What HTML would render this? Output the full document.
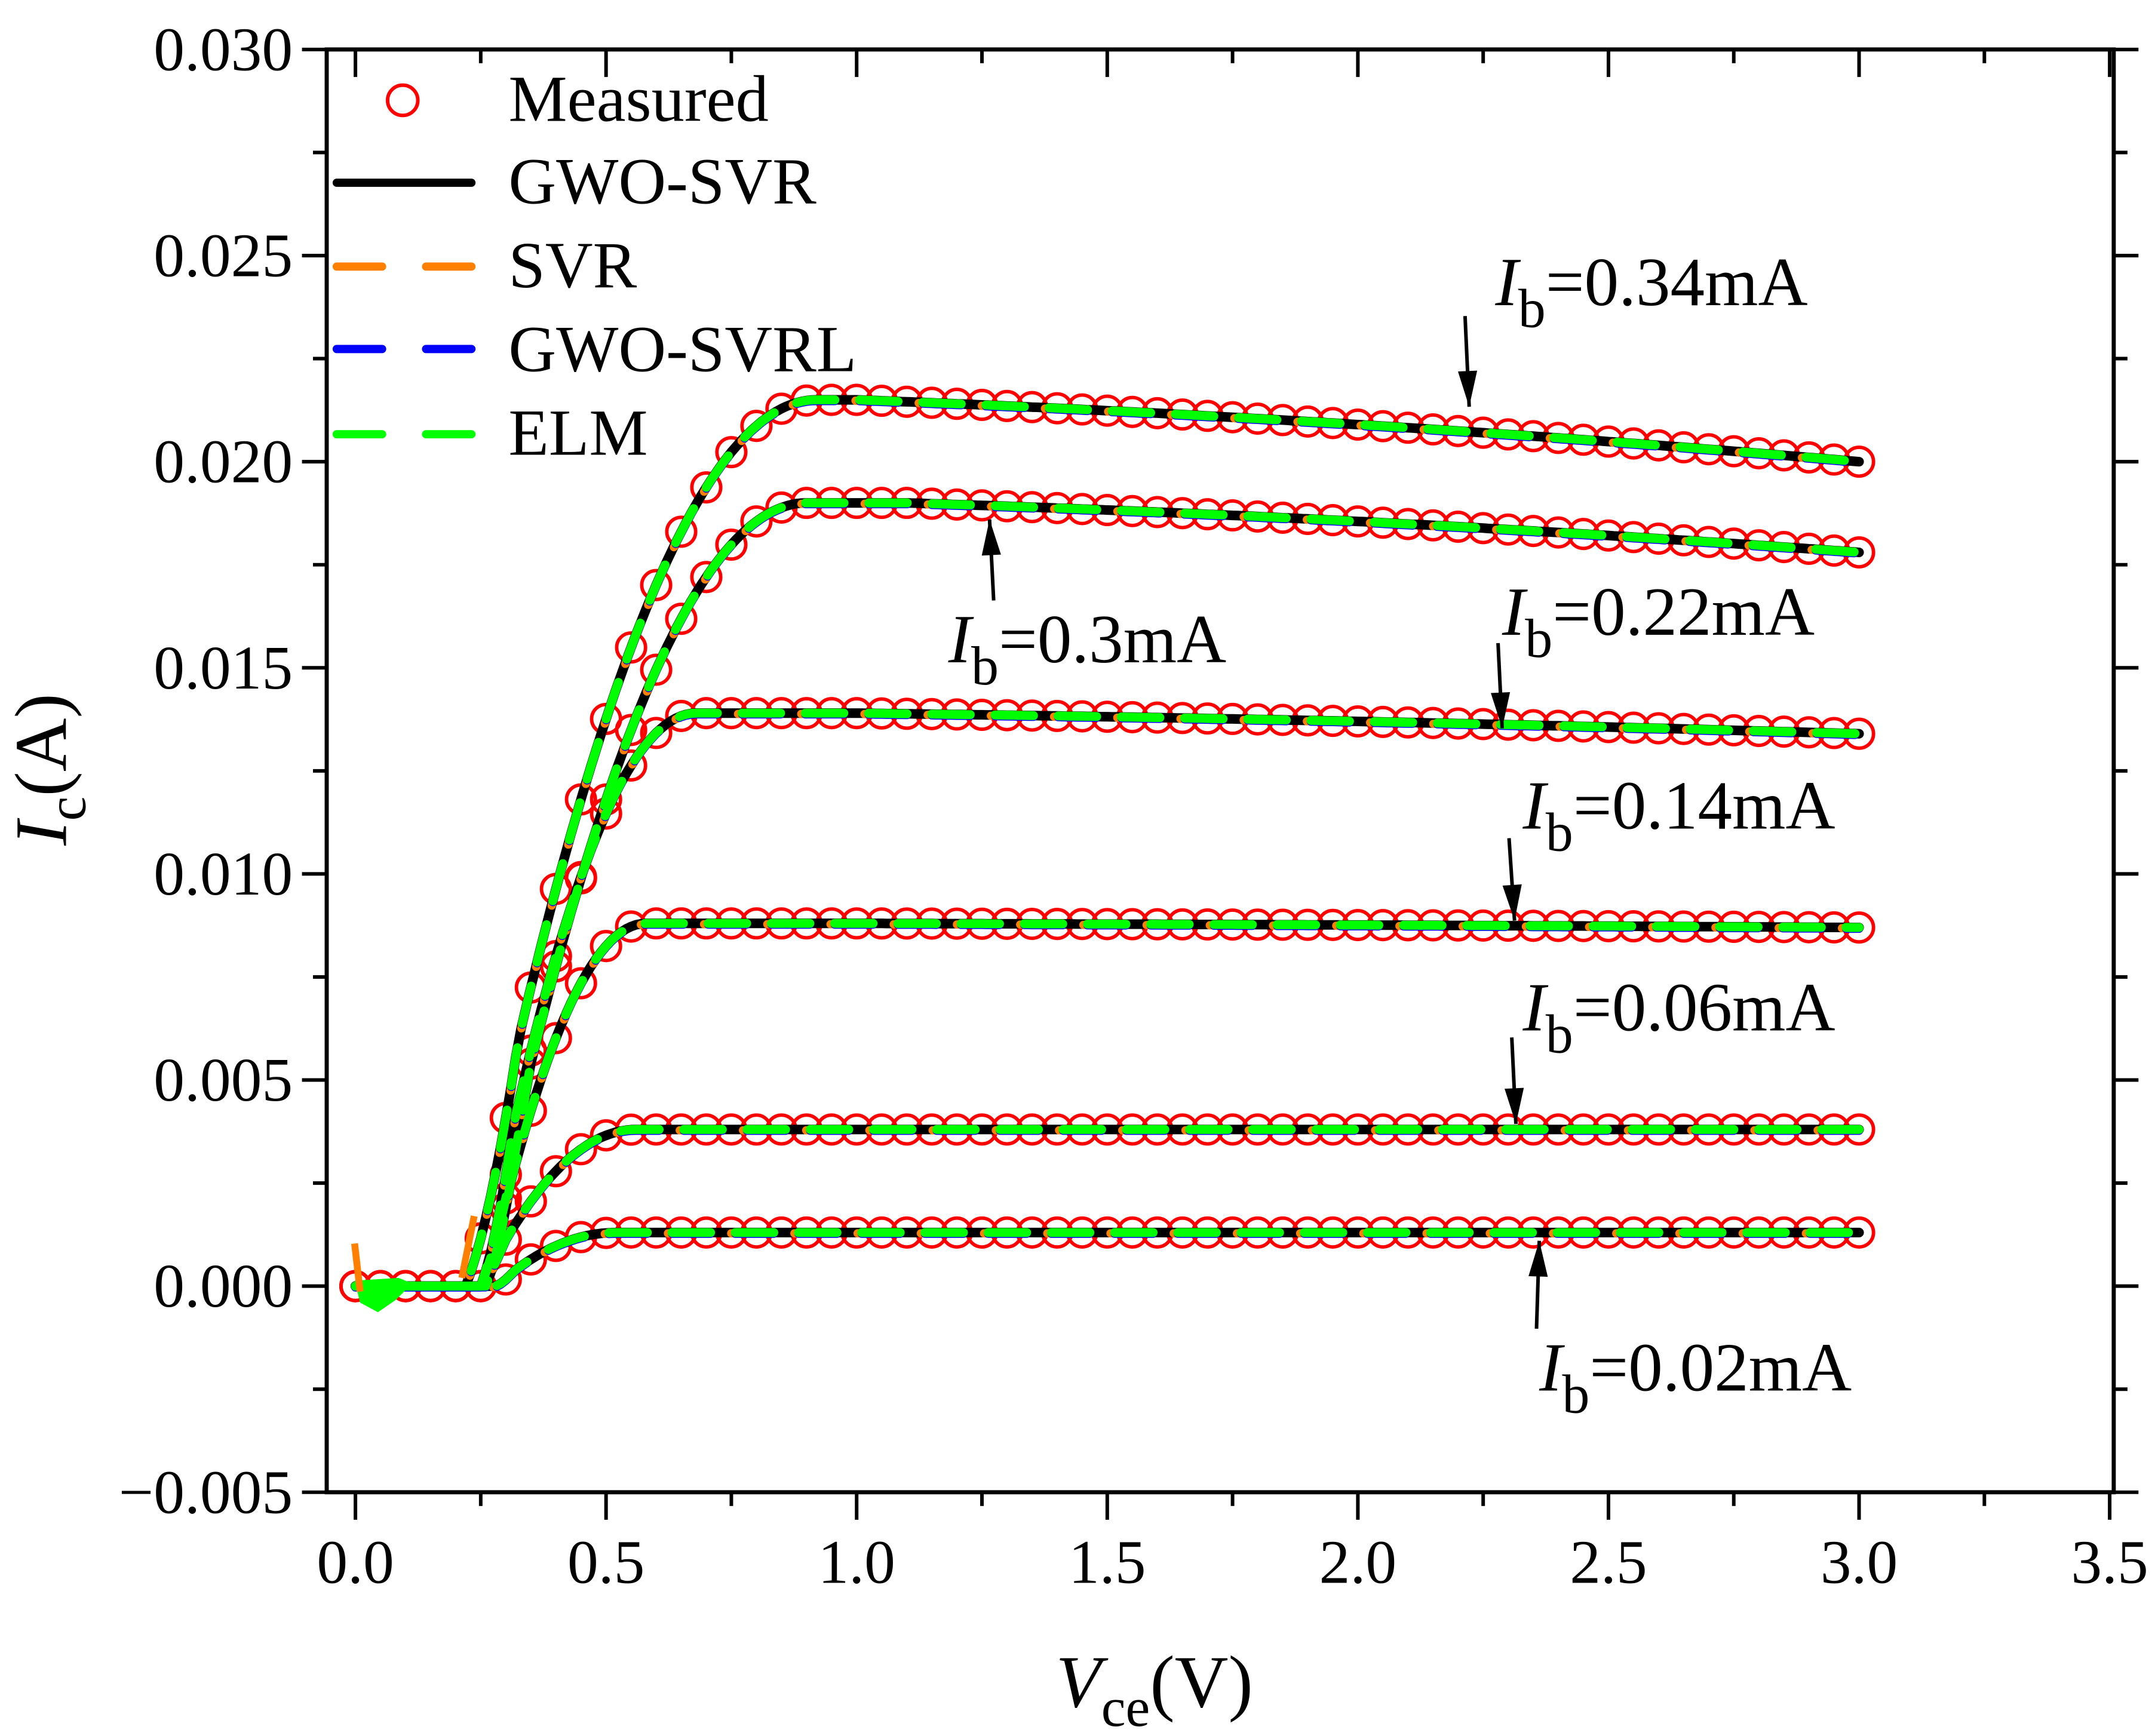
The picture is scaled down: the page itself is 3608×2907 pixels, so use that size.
<!DOCTYPE html>
<html><head><meta charset="utf-8"><style>html,body{margin:0;padding:0;background:#fff}svg{display:block}</style></head>
<body>
<svg id="s" xmlns="http://www.w3.org/2000/svg" width="3608" height="2907" viewBox="0 0 1568 1263.4" font-family="'Liberation Serif', serif">
<rect width="1568" height="1264" fill="#fff"/>
<g id="data"></g>
<rect x="237.7" y="36" width="1300.3" height="1050" fill="none" stroke="#000" stroke-width="3"/>
<g id="ticks" stroke="#000" stroke-width="2.6"></g>
<g id="labels" font-size="45" fill="#000"></g>
<text x="840" y="1242" font-size="54" text-anchor="middle"><tspan font-style="italic">V</tspan><tspan font-size="40" dy="14">ce</tspan><tspan dy="-14">(V)</tspan></text>
<text transform="translate(48,560) rotate(-90)" font-size="54" text-anchor="middle"><tspan font-style="italic">I</tspan><tspan font-size="40" dy="14">c</tspan><tspan dy="-14">(A)</tspan></text>
<g font-size="48">
<circle cx="293" cy="73" r="11" fill="none" stroke="#f00" stroke-width="2.6"/>
<text x="370" y="88">Measured</text>
<line x1="245" y1="133" x2="343" y2="133" stroke="#000" stroke-width="6" stroke-linecap="round"/>
<text x="370" y="148">GWO-SVR</text>
<line x1="245" y1="194" x2="278" y2="194" stroke="#ff8000" stroke-width="6" stroke-linecap="round"/><line x1="310" y1="194" x2="343" y2="194" stroke="#ff8000" stroke-width="6" stroke-linecap="round"/>
<text x="370" y="209">SVR</text>
<line x1="245" y1="254" x2="278" y2="254" stroke="#0000ff" stroke-width="6" stroke-linecap="round"/><line x1="310" y1="254" x2="343" y2="254" stroke="#0000ff" stroke-width="6" stroke-linecap="round"/>
<text x="370" y="270">GWO-SVRL</text>
<line x1="245" y1="316" x2="278" y2="316" stroke="#00ff00" stroke-width="6" stroke-linecap="round"/><line x1="310" y1="316" x2="343" y2="316" stroke="#00ff00" stroke-width="6" stroke-linecap="round"/>
<text x="370" y="331">ELM</text>
</g>
<g id="ann" font-size="50"></g>
</svg>
<script>
const NS="http://www.w3.org/2000/svg";
const X=v=>258.6+v*364.7, Y=i=>36+(0.030-i)*30000;
function el(t,a,p){const e=document.createElementNS(NS,t);for(const k in a)e.setAttribute(k,a[k]);p.appendChild(e);return e;}
const T=document.getElementById('ticks'),L=document.getElementById('labels');
for(let k=0;k<=14;k++){const v=-0.005+k*0.0025,y=Y(v),maj=k%2==0,len=maj?18:10;
 el('line',{x1:237.7-len,y1:y,x2:237.7,y2:y},T); el('line',{x1:1538,y1:y,x2:1538+len,y2:y},T);
 if(maj){const t=el('text',{x:213,y:y+15,'text-anchor':'end'},L);t.textContent=(v<-1e-9?'\u2212':'')+Math.abs(v).toFixed(3);}}
for(let k=0;k<=14;k++){const v=k*0.25,x=X(v),maj=k%2==0,len=maj?20:10;
 el('line',{x1:x,y1:1086,x2:x,y2:1086+len},T); el('line',{x1:x,y1:36,x2:x,y2:36+len},T);
 if(maj){const t=el('text',{x:x,y:1152,'text-anchor':'middle'},L);t.textContent=v.toFixed(1);}}
const C=[
 {s:0.0215,e:0.0200,a:1.0,v0:0.22,vk:0.92},
 {s:0.0190,e:0.0178,a:1.1,v0:0.25,vk:0.9},
 {s:0.0139,e:0.0134,a:1.0,v0:0.25,vk:0.68},
 {s:0.0088,e:0.0087,a:1.0,v0:0.26,vk:0.58},
 {s:0.0038,e:0.0038,a:1.0,v0:0.25,vk:0.56},
 {s:0.0013,e:0.0013,a:1.0,v0:0.28,vk:0.52}];
function I(c,v){let S=c.s; if(v>c.a){const t=(v-c.a)/(3-c.a); S=c.s+(c.e-c.s)*(t*0.6+t*t*0.4);}
 let t=(v-c.v0)/(c.vk-c.v0); let f=t<=0?0:t>=1?1:1-(1-t)*(1-t); if(t>0&&t<0.15)f*=t/0.15*0.5+0.5; return S*f;}
const D=document.getElementById('data');
const circ=el('g',{fill:'none',stroke:'#f00','stroke-width':2.5},D);
C.forEach(c=>{for(let i=0;i<=60;i++){const v=i*0.05;el('circle',{cx:X(v),cy:Y(I(c,v)),r:10.5},circ);}});
function path(c,off){let d='';for(let i=0;i<=300;i++){const v=i*0.01;d+=(i?'L':'M')+X(v).toFixed(1)+' '+(Y(I(c,v))+off).toFixed(1);}return d;}
const styles=[['#000',7,null,0],['#ff8000',6,'28 18',0.6],['#0000ff',6,'28 18',0.9],['#00ff00',6.5,'28 18',0]];
styles.forEach(([col,w,da,off],j)=>{C.forEach((c,k)=>{const a={d:path(c,off),fill:'none',stroke:col,'stroke-width':w,'stroke-linecap':'round','stroke-linejoin':'round'};if(da){a['stroke-dasharray']=da;a['stroke-dashoffset']=k*7+(j==1?3:0);}el('path',a,D);});});
el('path',{d:'M258 932 L262 948 L275 955 L288 946 L300 934 L290 930 Z',fill:'#00ff00'},D);
el('path',{d:'M262 940 L258 905',stroke:'#ff8000','stroke-width':5,fill:'none'},D);
el('path',{d:'M336 930 L345 885',stroke:'#ff8000','stroke-width':5,fill:'none'},D);
const A=document.getElementById('ann');
function lab(x,y,txt){const t=el('text',{x:x,y:y},A);t.innerHTML='<tspan font-style="italic">I</tspan><tspan font-size="40" dy="16">b</tspan><tspan dy="-16">'+txt+'</tspan>';}
function arrow(x1,y1,x2,y2){el('line',{x1:x1,y1:y1,x2:x2,y2:y2,stroke:'#000','stroke-width':2.6},A);
 const dx=x2-x1,dy=y2-y1,l=Math.hypot(dx,dy),ux=dx/l,uy=dy/l,h=26,w=7;
 el('polygon',{points:`${x2},${y2} ${x2-ux*h-uy*w},${y2-uy*h+ux*w} ${x2-ux*h+uy*w},${y2-uy*h-ux*w}`,fill:'#000'},A);}
lab(1088,222,'=0.34mA'); arrow(1066,230,1069,296);
lab(690,482,'=0.3mA'); arrow(723,437,720,378);
lab(1093,462,'=0.22mA'); arrow(1090,468,1093,530);
lab(1108,603,'=0.14mA'); arrow(1098,610,1102,670);
lab(1108,750,'=0.06mA'); arrow(1100,755,1103,818);
lab(1120,1012,'=0.02mA'); arrow(1118,967,1120,903);
</script>
</body></html>
